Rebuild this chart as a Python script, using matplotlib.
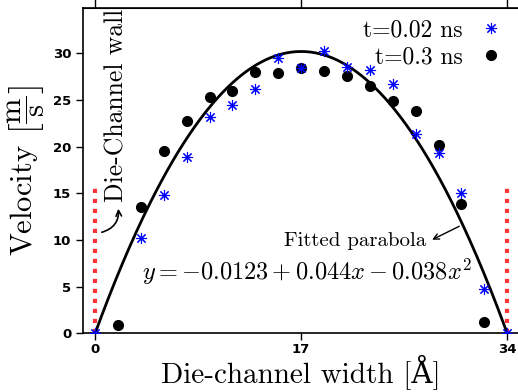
import numpy as np
import matplotlib
matplotlib.use("Agg")
import matplotlib.pyplot as plt

plt.rcParams['mathtext.fontset'] = 'cm'
plt.rcParams['axes.unicode_minus'] = False

# Data
n_bins = 18
width = 34.0
star_idx = [0, 2, 3, 4, 5, 6, 7, 8, 9, 10, 11, 12, 13, 14, 15, 16, 17, 18]
star_vel = [0, 10.25, 14.8, 18.9, 23.2, 24.5, 26.2, 29.5, 28.4, 30.3, 28.5, 28.2,
            26.7, 21.4, 19.3, 15.0, 4.7, 0]
dot_idx = [1, 2, 3, 4, 5, 6, 7, 8, 9, 10, 11, 12, 13, 14, 15, 16, 17]
dot_vel = [0.9, 13.5, 19.5, 22.7, 25.3, 26.0, 28.0, 27.9, 28.4, 28.1, 27.6, 26.5,
           24.9, 23.8, 20.2, 13.9, 1.25]
# fitted parabola coefficients (c0 + c1 x + c2 x^2), in plot units
fit_c0, fit_c1, fit_c2 = 0.0, 3.553, -0.1045
xticks = [0, 17, 34]
yticks = [0, 5, 10, 15, 20, 25, 30]
wall_height = 16.0

x_star = np.array(star_idx) * width / n_bins
x_dot = np.array(dot_idx) * width / n_bins

fig = plt.figure(figsize=(5.18, 3.92), dpi=100)
ax = fig.add_axes([83/518, 58.7/392, (519.3-83)/518, 325/392])

xf = np.linspace(0, width, 300)
yf = fit_c0 + fit_c1 * xf + fit_c2 * xf**2
ax.plot(xf, yf, color='black', lw=2.0, zorder=2)

ax.plot([0, 0], [0, wall_height], color='#ff3333', lw=3.0, ls=(0, (1, 1.4)),
        dash_capstyle='butt', zorder=1)
ax.plot([width, width], [0, wall_height], color='#ff3333', lw=3.0, ls=(0, (1, 1.4)),
        dash_capstyle='butt', zorder=1)

ax.plot(x_dot, dot_vel, 'o', color='black', ms=7, ls='none', zorder=3,
        label='t=0.3 ns')
ax.plot(x_star, star_vel, marker=(8, 2, 0), color='blue', mec='blue', ms=8,
        mew=0.8, ls='none', zorder=4, label='t=0.02 ns')

ax.set_xlim(-1, 35)
ax.set_ylim(0, 34.83)
ax.set_xticks(xticks)
ax.set_yticks(yticks)
for lab in ax.get_xticklabels() + ax.get_yticklabels():
    lab.set_fontweight('bold')
    lab.set_fontsize(9.5)
ax.tick_params(axis='x', which='both', direction='out', length=5, width=1, pad=2)
ax.tick_params(axis='y', which='both', direction='out', length=5, width=1)
ax.spines['right'].set_visible(False)
for s in ['top', 'bottom', 'left']:
    ax.spines[s].set_linewidth(1.2)

# top ticks outward (longer)
secx = ax.secondary_xaxis('top')
secx.set_xticks(xticks)
secx.set_xticklabels([])
secx.tick_params(direction='out', length=8, width=1)

ax.set_xlabel('Die-channel width [Å]', fontsize=21,
              family=['cmr10', 'DejaVu Serif'], labelpad=-1)
ax.set_ylabel('Velocity $\\left[\\dfrac{\\mathrm{m}}{\\mathrm{s}}\\right]$', fontsize=22,
              family='cmr10', labelpad=4)

handles, labels = ax.get_legend_handles_labels()
leg = ax.legend(handles[::-1], labels[::-1], loc='upper right', markerfirst=False,
                frameon=False, prop={'family': 'cmr10', 'size': 17},
                handlelength=1.0, handletextpad=0.7, labelspacing=0.2,
                borderaxespad=0.5, borderpad=0.2, bbox_to_anchor=(1.0, 1.017))

ax.text(1.8, 24.4, 'Die-Channel wall', rotation=90, ha='center', va='center',
        fontsize=18.5, family='cmr10')
ax.annotate('', xy=(1.9, 13.65), xytext=(0.33, 10.75),
            arrowprops=dict(arrowstyle='->', color='black', lw=1.2,
                            connectionstyle='arc3,rad=0.45'))

ax.text(21.45, 9.9, 'Fitted parabola', ha='center', va='center', fontsize=15,
        family='cmr10')
ax.annotate('', xy=(27.6, 9.9), xytext=(30.25, 11.6),
            arrowprops=dict(arrowstyle='->', color='black', lw=1.0))
ax.text(17.45, 6.57, '$y = -0.0123 + 0.044x - 0.038x^2$', ha='center', va='center',
        fontsize=17.5)

fig.savefig('out.png', dpi=100)
